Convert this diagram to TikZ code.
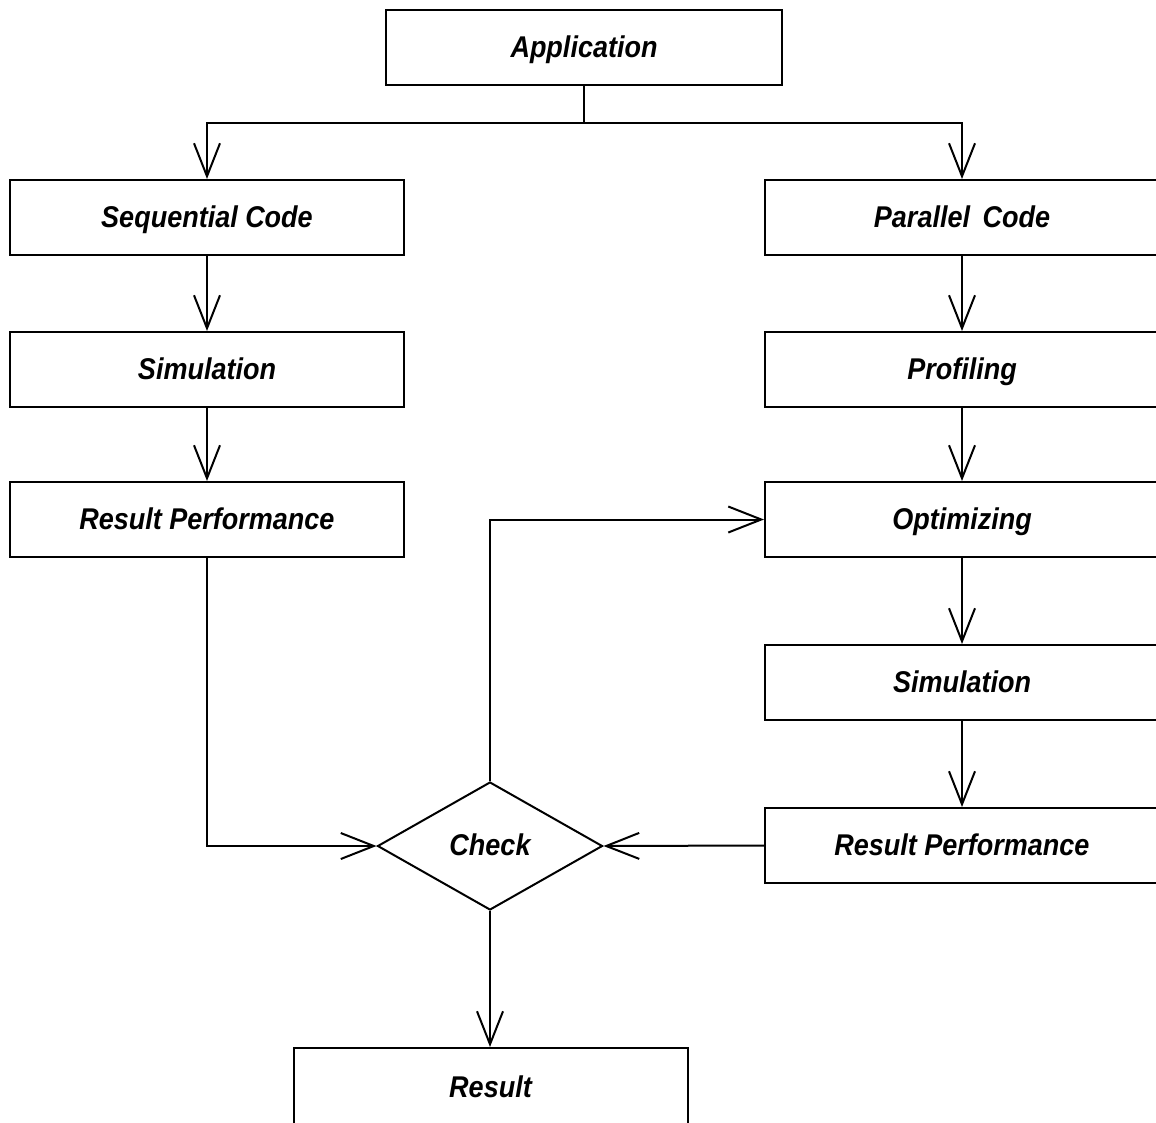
\documentclass[tikz,border=0pt]{standalone}
\usepackage{fontspec}
\setmainfont{Liberation Sans}
\newfontfamily\boxfont[FakeStretch=0.9]{Liberation Sans}
\usetikzlibrary{arrows.meta,shapes.geometric,positioning}

\tikzset{
  labelfont/.style={font=\boxfont\fontsize{30pt}{32pt}\selectfont\bfseries\itshape,
    text height=25pt, text depth=6pt},
  procbox/.style={draw, line width=2pt, rectangle, minimum width=394pt,
    minimum height=75pt, inner sep=0pt, labelfont},
  decision/.style={draw, line width=2pt, diamond, minimum width=225pt,
    minimum height=128pt, inner sep=0pt, aspect=1.76, labelfont},
  flow/.style={line width=2pt, -{Straight Barb[length=33pt,width=26pt,line width=2pt]}},
  plain/.style={line width=2pt}
}

\begin{document}
\begin{tikzpicture}[x=1pt,y=-1pt]
\useasboundingbox (0,0) rectangle (1156,1122);
\clip (0,0) rectangle (1156,1122);

% top node
\node[procbox, minimum width=396pt] (app) at (584,47.5) {Application};

% left column
\node[procbox] (seq)  at (207,217.5) {Sequential Code};
\node[procbox] (simL) at (207,369.5) {Simulation};
\node[procbox] (resL) at (207,519.5) {Result Performance};

% right column
\node[procbox] (par)  at (962,217.5) {Parallel\, Code};
\node[procbox] (prof) at (962,369.5) {Profiling};
\node[procbox] (opt)  at (962,519.5) {Optimizing};
\node[procbox] (simR) at (962,682.5) {Simulation};
\node[procbox] (resR) at (962,845.5) {Result Performance};

% decision and final result
\node[decision] (chk) at (490,846) {Check};
\node[procbox, minimum height=80pt] (res) at (490.5,1088) {Result};

% split from the application
\coordinate (split) at (app.south |- 0,123);
\draw[plain] (app.south) -- (split);
\draw[flow] (split) -| (seq.north);
\draw[flow] (split) -| (par.north);

% sequential chain
\draw[flow] (seq) -- (simL);
\draw[flow] (simL) -- (resL);
\draw[flow] (resL.south) |- (chk.west);

% parallel chain
\draw[flow] (par) -- (prof);
\draw[flow] (prof) -- (opt);
\draw[flow] (opt) -- (simR);
\draw[flow] (simR) -- (resR);
\draw[flow] (resR.west) -- (chk.east);

% feedback loop and output
\draw[flow] (chk.north) |- (opt.west);
\draw[flow] (chk.south) -- (chk.south |- res.north);
\end{tikzpicture}
\end{document}
